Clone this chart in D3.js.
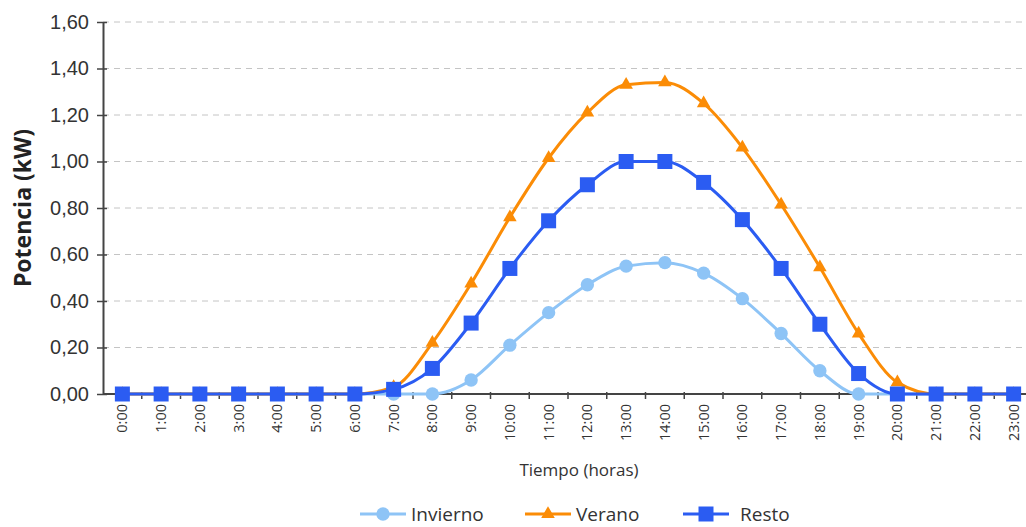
<!DOCTYPE html>
<html>
<head>
<meta charset="utf-8">
<script src="https://cdn.jsdelivr.net/npm/d3@7"></script>
<style>
  html, body { margin: 0; padding: 0; background: #fff; }
  svg { display: block; font-family: "Open Sans", "Noto Sans", sans-serif; }
</style>
</head>
<body>
<svg id="chart" width="1026" height="527"></svg>
<script>
// Hourly labels along the x axis
const hours = ["0:00","1:00","2:00","3:00","4:00","5:00","6:00","7:00","8:00","9:00","10:00","11:00",
               "12:00","13:00","14:00","15:00","16:00","17:00","18:00","19:00","20:00","21:00","22:00","23:00"];

// Power output (kW) for each season
const invierno = [0,0,0,0,0,0,0,0,0.00,0.06,0.21,0.35,0.47,0.55,0.565,0.52,0.41,0.26,0.10,0.00,0,0,0,0];
const verano   = [0,0,0,0,0,0,0,0.03,0.22,0.475,0.76,1.015,1.21,1.33,1.34,1.25,1.06,0.815,0.545,0.26,0.05,0,0,0];
const resto    = [0,0,0,0,0,0,0,0.02,0.11,0.305,0.54,0.745,0.90,1.00,1.00,0.91,0.75,0.54,0.30,0.088,0,0,0,0];

const yTicks = [0,0.2,0.4,0.6,0.8,1.0,1.2,1.4,1.6];

const seriesNames = ["Invierno","Verano","Resto"];
const seriesColors = ["#8ec4f6","#fb8c06","#2b5cf2"];
const seriesShapes = [d3.symbolCircle, d3.symbolTriangle, d3.symbolSquare];

const series = seriesNames.map((name, i) => ({
  name, color: seriesColors[i], shape: seriesShapes[i],
  values: [invierno, verano, resto][i]
}));

const svg = d3.select("#chart");
const plotLeft = 103, plotRight = 1033, plotTop = 22, plotBottom = 394;

const x = d3.scaleBand().domain(hours).range([plotLeft, plotRight]).padding(0);
const y = d3.scaleLinear().domain([0, 1.6]).range([plotBottom, plotTop]);
const fmt = v => d3.format(".2f")(v).replace(".", ",");

// Horizontal dashed grid
svg.append("g").selectAll("line").data(yTicks.filter(v => v > 0)).join("line")
  .attr("x1", plotLeft).attr("x2", 1026)
  .attr("y1", d => y(d)).attr("y2", d => y(d))
  .attr("stroke", "#c4c4c4").attr("stroke-width", 1)
  .attr("stroke-dasharray", "6,5");

// Y axis
const yAxis = svg.append("g").attr("transform", `translate(${plotLeft},0)`)
  .call(d3.axisLeft(y).tickValues(yTicks).tickFormat(fmt).tickSize(6).tickSizeOuter(0));
yAxis.select(".domain").attr("stroke", "#444").attr("stroke-width", 2);
yAxis.selectAll(".tick line").attr("stroke", "#444").attr("stroke-width", 1.5).attr("x2", 4).attr("x1", -6);
yAxis.selectAll(".tick text").attr("x", -14).attr("font-size", 20).attr("fill", "#333");

// X axis: ticks sit on the band boundaries
const xAxis = svg.append("g").attr("transform", `translate(0,${plotBottom})`);
xAxis.append("line").attr("x1", plotLeft).attr("x2", plotRight).attr("stroke", "#444").attr("stroke-width", 2);
xAxis.selectAll("line.tk").data(hours.slice(1)).join("line").attr("class", "tk")
  .attr("x1", d => x(d)).attr("x2", d => x(d)).attr("y1", -2).attr("y2", 5)
  .attr("stroke", "#444").attr("stroke-width", 1.5);
xAxis.selectAll("text").data(hours).join("text")
  .attr("transform", d => `translate(${x(d) + x.bandwidth() / 2 + 5},10) rotate(-90)`)
  .attr("text-anchor", "end")
  .attr("font-size", 14.5).attr("fill", "#333")
  .text(d => d);

// Axis titles
svg.append("text").attr("transform", "translate(31,208) rotate(-90)")
  .attr("text-anchor", "middle").attr("font-size", 23).attr("font-weight", "bold").attr("fill", "#222")
  .text("Potencia (kW)");
svg.append("text").attr("x", 579).attr("y", 476).attr("text-anchor", "middle")
  .attr("font-size", 17).attr("fill", "#333").text("Tiempo (horas)");

// Series lines and markers
const line = d3.line()
  .x((d, i) => x(hours[i]) + x.bandwidth() / 2)
  .y(d => y(d))
  .curve(d3.curveMonotoneX);

const markerSize = s => s.shape === d3.symbolSquare ? 225 : (s.shape === d3.symbolTriangle ? 80 : 140);

series.forEach(s => {
  const g = svg.append("g");
  g.append("path").attr("d", line(s.values))
    .attr("fill", "none").attr("stroke", s.color).attr("stroke-width", 3);
  g.selectAll("path.m").data(s.values).join("path").attr("class", "m")
    .attr("d", d3.symbol().type(s.shape).size(markerSize(s)))
    .attr("transform", (d, i) => `translate(${x(hours[i]) + x.bandwidth() / 2},${y(d)})`)
    .attr("fill", s.color);
});

// Legend
const legendX = [360, 525, 683];
const lg = svg.append("g");
series.forEach((s, i) => {
  const g = lg.append("g").attr("transform", `translate(${legendX[i]},514)`);
  g.append("line").attr("x1", 0).attr("x2", 46).attr("stroke", s.color).attr("stroke-width", 3);
  g.append("path").attr("d", d3.symbol().type(s.shape).size(markerSize(s))).attr("transform", "translate(23,0)").attr("fill", s.color);
  g.append("text").attr("x", i === 2 ? 57 : 51).attr("y", 6.5).attr("font-size", 19).attr("fill", "#333").text(s.name);
});
</script>
</body>
</html>
